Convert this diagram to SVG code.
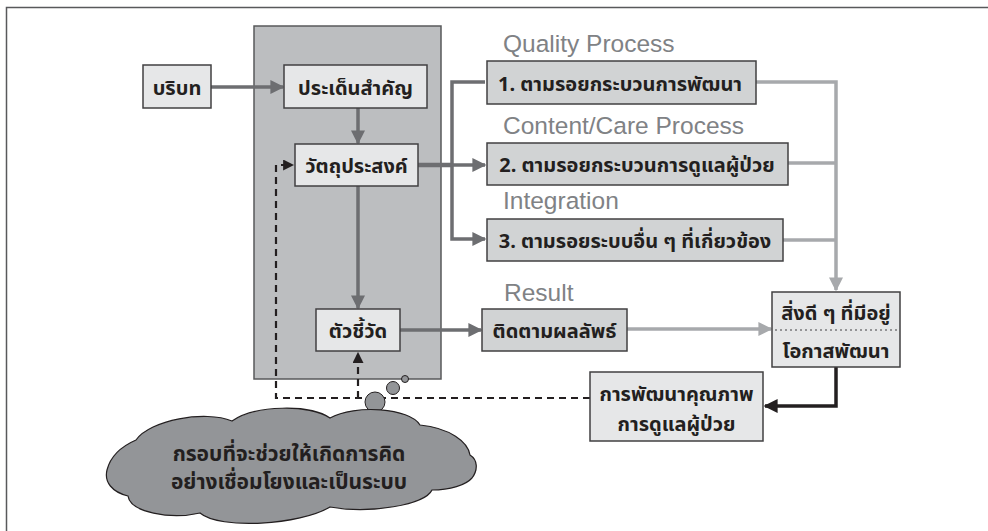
<svg xmlns="http://www.w3.org/2000/svg" width="988" height="531" viewBox="0 0 988 531">
<defs>
<style>
.th{font-family:"Noto Sans Thai","Noto Sans","Liberation Sans",sans-serif;font-weight:bold;fill:#231f20;text-anchor:middle;font-size:20px}
.en{font-family:"Liberation Sans",Arial,sans-serif;fill:#808285;font-size:24.5px}
.lb{fill:#e6e7e8;stroke:#414042;stroke-width:1.5}
.mb{fill:#d1d3d4;stroke:#414042;stroke-width:1.5}
.dk{stroke:#6d6e71;stroke-width:3.5;fill:none}
.lt{stroke:#a7a9ac;stroke-width:3.5;fill:none}
.bk{stroke:#231f20;stroke-width:3.5;fill:none}
.ds{stroke:#231f20;stroke-width:2.2;fill:none;stroke-dasharray:7 5}
</style>
<marker id="ad" viewBox="0 0 10 10" refX="9" refY="5" markerWidth="4" markerHeight="4" orient="auto" markerUnits="strokeWidth"><path d="M0,0L10,5L0,10z" fill="#6d6e71"/></marker>
<marker id="al" viewBox="0 0 10 10" refX="9" refY="5" markerWidth="4" markerHeight="4" orient="auto" markerUnits="strokeWidth"><path d="M0,0L10,5L0,10z" fill="#a7a9ac"/></marker>
<marker id="ab" viewBox="0 0 10 10" refX="9" refY="5" markerWidth="4" markerHeight="4" orient="auto" markerUnits="strokeWidth"><path d="M0,0L10,5L0,10z" fill="#231f20"/></marker>
<marker id="as" viewBox="0 0 10 10" refX="9" refY="5" markerWidth="5" markerHeight="5" orient="auto" markerUnits="strokeWidth"><path d="M0,0L10,5L0,10z" fill="#231f20"/></marker>
</defs>
<rect x="0" y="0" width="988" height="531" fill="#ffffff"/>
<rect x="6.5" y="7.5" width="1000" height="540" fill="none" stroke="#58595b" stroke-width="1.5"/>
<g id="panel"><rect x="254" y="26" width="187" height="353" fill="#bcbec0" stroke="#58595b" stroke-width="1.5"/></g>

<g id="connectors">
<line class="dk" x1="211" y1="87" x2="283" y2="87" marker-end="url(#ad)"/>
<line class="dk" x1="358" y1="108" x2="358" y2="143" marker-end="url(#ad)"/>
<line stroke="#6d6e71" stroke-width="4.5" x1="418" y1="165" x2="452" y2="165"/>
<polyline class="dk" points="485,82 452,82 452,239 485,239" marker-end="url(#ad)"/>
<line class="dk" x1="452" y1="165" x2="485" y2="165" marker-end="url(#ad)"/>
<line class="dk" x1="358" y1="186" x2="358" y2="308" marker-end="url(#ad)"/>
<line class="dk" x1="400" y1="330" x2="481" y2="330" marker-end="url(#ad)"/>
<line class="lt" x1="627" y1="329" x2="771" y2="329" marker-end="url(#al)"/>
<polyline class="lt" points="756,82 836,82 836,290" marker-end="url(#al)"/>
<line class="lt" x1="788" y1="163" x2="836" y2="163"/>
<line class="lt" x1="783" y1="240" x2="836" y2="240"/>
<polyline class="bk" points="836,367 836,406 765,406" marker-end="url(#ab)"/>
<polyline class="ds" points="590,398 276,398 276,165 293,165" marker-end="url(#as)"/>
<line class="ds" x1="358" y1="398" x2="358" y2="353" marker-end="url(#as)"/>
</g>

<g id="n-context"><rect class="lb" x="143" y="65" width="68" height="43"/><text class="th" x="177" y="95">บริบท</text></g>
<g id="n-issue"><rect class="lb" x="284" y="65" width="143" height="43"/><text class="th" x="355.5" y="95">ประเด็นสำคัญ</text></g>
<g id="n-objective"><rect class="lb" x="295" y="144" width="123" height="42"/><text class="th" x="356.5" y="173">วัตถุประสงค์</text></g>
<g id="n-indicator"><rect class="lb" x="316" y="309" width="84" height="42"/><text class="th" x="358" y="338">ตัวชี้วัด</text></g>

<g id="n-quality"><text class="en" x="503" y="52">Quality Process</text><rect class="mb" x="487" y="61" width="269" height="43"/><text class="th" x="620" y="91">1. ตามรอยกระบวนการพัฒนา</text></g>
<g id="n-care"><text class="en" x="503" y="134">Content/Care Process</text><rect class="mb" x="487" y="143" width="301" height="42"/><text class="th" x="637" y="172">2. ตามรอยกระบวนการดูแลผู้ป่วย</text></g>
<g id="n-integration"><text class="en" x="503" y="209">Integration</text><rect class="mb" x="487" y="219" width="296" height="42"/><text class="th" x="635" y="248">3. ตามรอยระบบอื่น ๆ ที่เกี่ยวข้อง</text></g>
<g id="n-result"><text class="en" x="504" y="301">Result</text><rect class="mb" x="482" y="309" width="145" height="42"/><text class="th" x="554.5" y="338">ติดตามผลลัพธ์</text></g>

<g id="n-good"><rect class="lb" x="772" y="292" width="128" height="75"/><line x1="775" y1="330" x2="897" y2="330" stroke="#414042" stroke-width="1" stroke-dasharray="2 3"/><text class="th" x="836" y="320">สิ่งดี ๆ ที่มีอยู่</text><text class="th" x="836" y="358">โอกาสพัฒนา</text></g>
<g id="n-improve"><rect class="lb" x="590" y="372" width="173" height="69"/><text class="th" x="676.5" y="401">การพัฒนาคุณภาพ</text><text class="th" x="676.5" y="431">การดูแลผู้ป่วย</text></g>

<g id="n-cloud">
<circle cx="405" cy="379" r="3.5" fill="#939598" stroke="#231f20" stroke-width="1"/>
<circle cx="393" cy="388" r="6.5" fill="#939598" stroke="#231f20" stroke-width="1"/>
<circle cx="375" cy="402" r="10" fill="#939598" stroke="#231f20" stroke-width="1"/>
<path d="M107,470 C110,458 120,447 136,440 C150,420 205,410 232,421 C255,405 310,404 330,418 C355,404 410,408 420,425 C450,428 468,442 470,455 C478,460 478,470 472,478 C466,485 450,490 432,490 C425,505 370,514 330,507 C300,525 220,530 200,513 C170,520 130,512 128,496 C112,492 104,482 107,470 Z" fill="#939598" stroke="#231f20" stroke-width="1.2"/>
<text class="th" x="289" y="461" style="font-size:21px">กรอบที่จะช่วยให้เกิดการคิด</text>
<text class="th" x="289" y="489" style="font-size:21px">อย่างเชื่อมโยงและเป็นระบบ</text>
</g>
</svg>
